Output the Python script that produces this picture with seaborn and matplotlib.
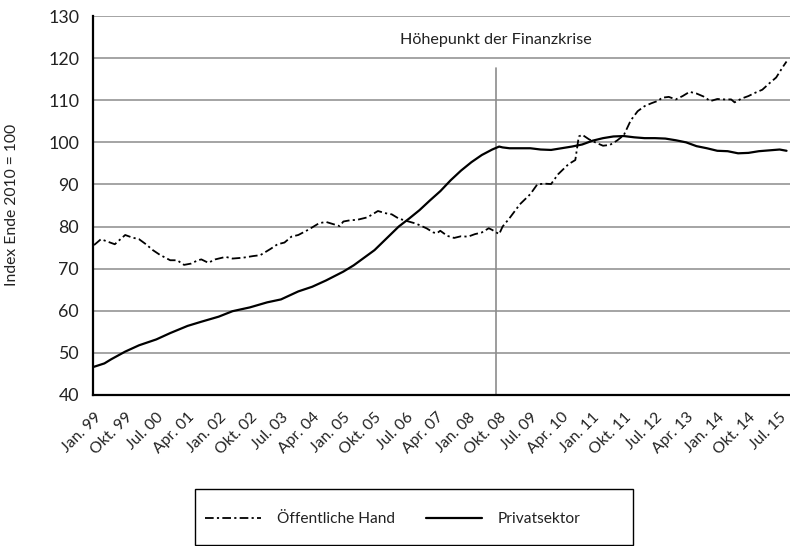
import matplotlib
matplotlib.use("Agg")
import pandas as pd
import matplotlib.pyplot as plt
import seaborn as sns
from matplotlib.patches import Rectangle
from matplotlib.lines import Line2D

# months counted from Jan. 1999 (0 = Jan. 99)
priv_months = [0, 3, 5, 9, 13, 18, 22, 27, 31, 36, 40, 45, 50, 54, 59, 63, 67,
               72, 75, 78, 81, 84, 88, 91, 94, 97, 100, 103, 106, 109, 112, 115,
               117, 118, 120, 123, 126, 129, 132, 135, 138, 141, 144, 147, 150,
               153, 156, 159, 162, 165, 168, 171, 174, 177, 180, 183, 186, 189,
               192, 195, 198, 200]
priv_values = [46.7, 47.5, 48.5, 50.3, 51.8, 53.2, 54.7, 56.4, 57.4, 58.6, 59.9,
               60.8, 62.0, 62.7, 64.6, 65.7, 67.2, 69.3, 70.8, 72.6, 74.4, 76.8,
               80.0, 81.9, 83.9, 86.2, 88.4, 91.0, 93.3, 95.3, 97.0, 98.3, 99.0,
               98.8, 98.6, 98.6, 98.6, 98.3, 98.2, 98.6, 99.0, 99.5, 100.4, 101.0,
               101.4, 101.5, 101.2, 101.0, 101.0, 100.9, 100.5, 100.0, 99.1, 98.6,
               98.0, 97.9, 97.4, 97.5, 97.9, 98.1, 98.3, 98.0]

pub_months = [0, 2, 4, 6, 9, 11, 13, 15, 17, 19, 22, 24, 26, 28, 30, 31, 33, 35,
              38, 40, 43, 46, 48, 51, 53, 55, 57, 59, 62, 65, 67, 69, 71, 72, 74,
              76, 79, 82, 84, 86, 88, 90, 93, 96, 98, 99, 100, 102, 104, 106, 108,
              110, 112, 114, 115, 117, 118, 120, 123, 126, 128, 130, 132, 134, 136,
              137, 139, 140, 141, 143, 145, 147, 149, 151, 153, 155, 157, 159, 161,
              163, 164, 166, 168, 170, 172, 174, 176, 178, 180, 182, 184, 185, 187,
              189, 191, 193, 195, 197, 199, 200]
pub_values = [75.6, 77.0, 76.4, 75.8, 78.0, 77.4, 77.0, 75.8, 74.4, 73.3, 72.0,
              72.0, 70.9, 71.2, 72.0, 72.2, 71.4, 72.2, 72.8, 72.4, 72.6, 73.0,
              73.2, 74.7, 75.8, 76.2, 77.6, 78.0, 79.3, 80.8, 81.1, 80.6, 80.1,
              81.2, 81.5, 81.6, 82.2, 83.7, 83.2, 82.9, 81.9, 81.4, 80.7, 79.6,
              78.6, 78.4, 79.0, 77.8, 77.3, 77.7, 77.6, 78.2, 78.6, 79.6, 79.2,
              78.2, 80.0, 82.0, 85.3, 87.7, 90.0, 90.2, 90.1, 92.4, 94.0, 94.8,
              95.8, 101.4, 101.8, 100.7, 99.9, 99.2, 99.4, 100.4, 101.7, 105.2,
              107.4, 108.6, 109.3, 109.9, 110.6, 110.8, 110.2, 111.0, 112.0, 111.6,
              110.9, 109.8, 110.3, 110.2, 110.2, 109.5, 110.4, 111.0, 111.8, 112.5,
              114.0, 115.4, 118.0, 119.2]

crisis_month = 116  # Sep. 2008
crisis_text = "Höhepunkt der Finanzkrise"

tick_months = [0, 9, 18, 27, 36, 45, 54, 63, 72, 81, 90, 99, 108, 117, 126, 135,
               144, 153, 162, 171, 180, 189, 198]
tick_labels = ["Jan. 99", "Okt. 99", "Jul. 00", "Apr. 01", "Jan. 02", "Okt. 02",
               "Jul. 03", "Apr. 04", "Jan. 05", "Okt. 05", "Jul. 06", "Apr. 07",
               "Jan. 08", "Okt. 08", "Jul. 09", "Apr. 10", "Jan. 11", "Okt. 11",
               "Jul. 12", "Apr. 13", "Jan. 14", "Okt. 14", "Jul. 15"]

pub_name = "Öffentliche Hand"
priv_name = "Privatsektor"

sns.set_style("white")
plt.rcParams['font.family'] = ['Lato', 'DejaVu Sans']
plt.rcParams['text.color'] = '#222222'

dashdot = (0, (4.8, 1.8, 1.2, 1.8))

fig = plt.figure(figsize=(7.9, 5.46), dpi=100)
ax = fig.add_axes([0.1177, 0.2766, 0.8823, 0.694])

ax.set_ylim(40, 130)
ax.set_xlim(-0.3, 201)
for v in range(50, 131, 10):
    ax.axhline(v, color="#8c8c8c", lw=1.1, zorder=0)

ax.plot([crisis_month, crisis_month], [40, 117.6], color="#8c8c8c", lw=1.2, zorder=1)
ax.text(crisis_month, 124.3, crisis_text, ha="center", va="center",
        fontsize=11.6, color="#222222")

df_pub = pd.DataFrame({"month": pub_months, "value": pub_values})
df_priv = pd.DataFrame({"month": priv_months, "value": priv_values})
sns.lineplot(data=df_pub, x="month", y="value", ax=ax, color="black",
             lw=1.3, linestyle=dashdot, zorder=3)
sns.lineplot(data=df_priv, x="month", y="value", ax=ax, color="black",
             lw=1.6, zorder=3)

for side in ["top", "right"]:
    ax.spines[side].set_visible(False)
for side in ["left", "bottom"]:
    ax.spines[side].set_color("black")
    ax.spines[side].set_linewidth(1.6)

ax.set_yticks(range(40, 131, 10))
ax.set_xticks(tick_months)
ax.set_xticklabels(tick_labels, rotation=45, ha="right", va="top",
                   rotation_mode="anchor")
ax.tick_params(axis="x", direction="out", length=8, width=1.4, color="black",
               labelsize=11.3, pad=3, labelcolor="#222222")
ax.tick_params(axis="y", direction="out", length=7, width=1.2, color="black",
               labelsize=12.8, pad=3, labelcolor="#222222")
ax.set_xlabel("")
ax.set_ylabel("")
fig.text(12 / 790, 1 - 205 / 546, "Index Ende 2010 = 100", rotation=90,
         ha="center", va="center", fontsize=11.3)

handles = [Line2D([], [], color="black", lw=1.3, linestyle=dashdot),
           Line2D([], [], color="black", lw=1.6)]
fig.legend(handles, [pub_name, priv_name], loc="center", ncol=2,
           bbox_to_anchor=(0.4975, 0.0495), frameon=False, fontsize=11.2,
           handlelength=3.6, handletextpad=1.0, columnspacing=2.0)
fig.patches.append(Rectangle((195 / 790, 1 / 546), 438 / 790, 56 / 546,
                             transform=fig.transFigure, fill=False,
                             edgecolor="black", lw=1.0))

fig.savefig("out.png", dpi=100)
